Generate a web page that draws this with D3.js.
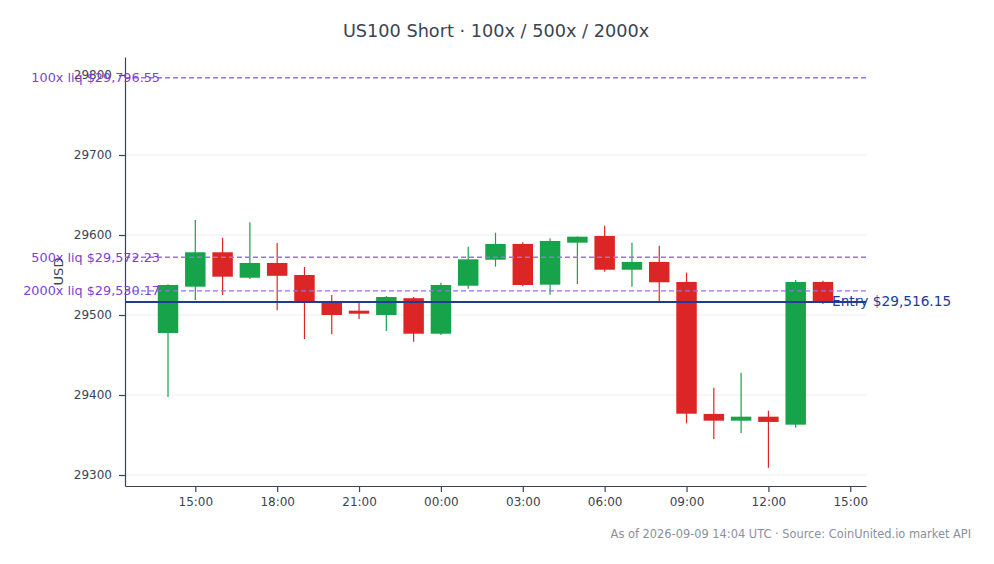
<!DOCTYPE html>
<html>
<head>
<meta charset="utf-8">
<script src="https://cdn.jsdelivr.net/npm/d3@7"></script>
<style>
  body { margin: 0; background: #ffffff; }
  svg { font-family: "DejaVu Sans", sans-serif; }
</style>
</head>
<body>
<div id="chart"></div>
<script>
// hourly candles, 2026-09-08 14:00 UTC -> 2026-09-09 14:00 UTC
const startHour = "2026-09-08T14:00:00Z";
const opens  = [29477.5, 29535.4, 29578.4, 29546.6, 29565.0, 29550.0, 29517.5, 29505.4, 29500.0, 29521.0, 29476.6, 29536.6, 29569.1,
                29588.8, 29537.9, 29590.4, 29598.8, 29556.6, 29566.3, 29541.3, 29376.3, 29367.9, 29372.9, 29362.9, 29541.3];
const highs  = [29538.5, 29618.8, 29596.6, 29616.0, 29590.0, 29560.0, 29525.0, 29515.4, 29523.8, 29522.5, 29540.4, 29585.4, 29602.9,
                29591.0, 29596.0, 29598.2, 29611.6, 29590.4, 29586.6, 29552.9, 29409.0, 29427.9, 29380.4, 29543.8, 29542.9];
const lows   = [29397.5, 29518.8, 29525.0, 29545.0, 29506.0, 29470.0, 29476.0, 29495.0, 29480.0, 29466.6, 29475.0, 29532.9, 29560.4,
                29536.0, 29525.4, 29538.8, 29554.0, 29535.4, 29517.0, 29364.6, 29345.0, 29352.5, 29309.0, 29359.0, 29513.8];
const closes = [29537.5, 29578.4, 29547.9, 29565.0, 29549.0, 29516.6, 29500.0, 29501.6, 29522.5, 29476.6, 29537.5, 29569.6, 29588.8,
                29537.5, 29592.5, 29597.9, 29556.6, 29566.3, 29540.9, 29376.6, 29367.9, 29372.9, 29366.3, 29541.3, 29516.2];

const liqLabels = ["100x liq $29,796.55", "500x liq $29,572.23", "2000x liq $29,530.17"];
const liqPrices = [29796.55, 29572.23, 29530.17];
const entryPrice = 29516.15;
const entryLabel = "Entry $29,516.15";

const yTicks = [29300, 29400, 29500, 29600, 29700, 29800];

const titleText = "US100 Short · 100x / 500x / 2000x";
const footerText = "As of 2026-09-09 14:04 UTC · Source: CoinUnited.io market API";

const width = 994, height = 564;
const margin = { top: 57, right: 128, bottom: 78, left: 125 };
const innerW = width - margin.left - margin.right;
const innerH = height - margin.top - margin.bottom;

const HOUR = 3600 * 1000;
const t0 = new Date(startHour).getTime();
const candles = opens.map((o, i) => ({
  t: new Date(t0 + i * HOUR), o: o, h: highs[i], l: lows[i], c: closes[i]
}));

const x = d3.scaleUtc()
  .domain([new Date(t0 - 1.576 * HOUR), new Date(t0 + (candles.length - 1 + 1.576) * HOUR)])
  .range([0, innerW]);
const y = d3.scaleLinear().domain([29286.25, 29822.5]).range([innerH, 0]);

const svg = d3.select("#chart").append("svg")
  .attr("width", width)
  .attr("height", height);

const axisColor = "#3b4453";

svg.append("text")
  .attr("x", width / 2 - 1)
  .attr("y", 37)
  .attr("text-anchor", "middle")
  .style("font-size", "17.7px")
  .style("fill", axisColor)
  .text(titleText);

const g = svg.append("g").attr("transform", `translate(${margin.left},${margin.top})`);

// horizontal grid
g.selectAll(".grid")
  .data(yTicks)
  .enter().append("line")
  .attr("x1", 0).attr("x2", innerW)
  .attr("y1", d => y(d)).attr("y2", d => y(d))
  .style("stroke", "#eceef1")
  .style("stroke-width", 1);

// axes
const yAxis = g.append("g")
  .call(d3.axisLeft(y).tickValues(yTicks).tickFormat(d3.format("d"))
    .tickSizeInner(6).tickSizeOuter(0).tickPadding(7));
const xAxis = g.append("g")
  .attr("transform", `translate(0,${innerH})`)
  .call(d3.axisBottom(x).ticks(d3.utcHour.every(3)).tickFormat(d3.utcFormat("%H:%M"))
    .tickSizeInner(6).tickSizeOuter(0).tickPadding(5));

[yAxis, xAxis].forEach(a => {
  a.selectAll("path, line").style("stroke", axisColor).style("stroke-width", 1.2);
  a.selectAll("text").style("font-size", "12px").style("fill", axisColor).style("font-family", "DejaVu Sans, sans-serif");
});

svg.append("text")
  .attr("transform", `translate(58,${margin.top + innerH / 2}) rotate(-90)`)
  .attr("dy", "0.35em")
  .attr("text-anchor", "middle")
  .style("font-size", "13px")
  .style("fill", axisColor)
  .text("USD");

// candles
const bodyW = x(new Date(t0 + 0.75 * HOUR)) - x(new Date(t0));
const upColor = "#16a34a", downColor = "#dc2626";

const cg = g.selectAll(".candle")
  .data(candles)
  .enter().append("g")
  .attr("class", "candle");

cg.append("line")
  .attr("x1", d => x(d.t)).attr("x2", d => x(d.t))
  .attr("y1", d => y(d.h)).attr("y2", d => y(d.l))
  .style("stroke", d => d.c >= d.o ? upColor : downColor)
  .style("stroke-width", 1.2);

cg.append("rect")
  .attr("x", d => x(d.t) - bodyW / 2)
  .attr("width", bodyW)
  .attr("y", d => y(Math.max(d.o, d.c)))
  .attr("height", d => Math.max(1.5, Math.abs(y(d.o) - y(d.c))))
  .style("fill", d => d.c >= d.o ? upColor : downColor);

// liquidation levels
g.selectAll(".liq")
  .data(liqPrices)
  .enter().append("line")
  .attr("x1", 0).attr("x2", innerW)
  .attr("y1", d => y(d)).attr("y2", d => y(d))
  .style("stroke", "#9d6fe8")
  .style("stroke-width", 1.4)
  .style("stroke-dasharray", "5,3");

g.selectAll(".liq-label")
  .data(liqPrices)
  .enter().append("text")
  .attr("x", 35)
  .attr("y", d => y(d))
  .attr("dy", "0.35em")
  .attr("text-anchor", "end")
  .style("font-size", "12.8px")
  .style("fill", "#7d3fd6")
  .text((d, i) => liqLabels[i]);

// entry
g.append("line")
  .attr("x1", 0).attr("x2", innerW)
  .attr("y1", y(entryPrice)).attr("y2", y(entryPrice))
  .style("stroke", "#1e3a9a")
  .style("stroke-width", 2);

g.append("text")
  .attr("x", innerW - 34)
  .attr("y", y(entryPrice))
  .attr("dy", "0.3em")
  .style("font-size", "13.7px")
  .style("fill", "#1e3a9a")
  .text(entryLabel);

svg.append("text")
  .attr("x", 971)
  .attr("y", 538)
  .attr("text-anchor", "end")
  .style("font-size", "11.4px")
  .style("fill", "#8a909a")
  .text(footerText);
</script>
</body>
</html>
